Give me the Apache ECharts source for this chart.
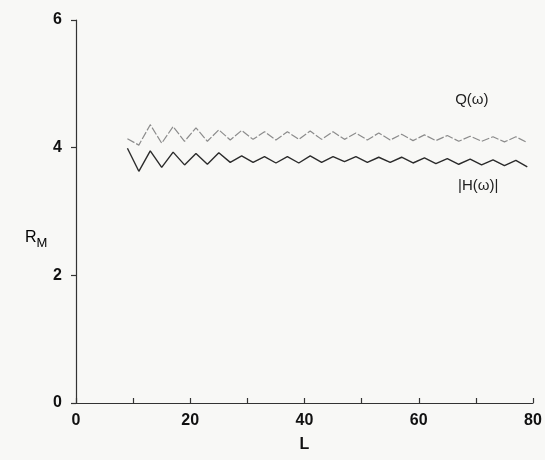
<!DOCTYPE html>
<html>
<head>
<meta charset="utf-8">
<script src="https://cdn.jsdelivr.net/npm/echarts@6/dist/echarts.min.js"></script>
<style>
  html, body { margin: 0; padding: 0; background: #f8f8f6; }
  #chart { width: 545px; height: 460px; }
</style>
</head>
<body>
<div id="chart"></div>
<script>
// Window size L (sampled every 2) and the two ratio curves
const lValues = [9, 11, 13, 15, 17, 19, 21, 23, 25, 27, 29, 31, 33, 35, 37, 39, 41, 43, 45,
  47, 49, 51, 53, 55, 57, 59, 61, 63, 65, 67, 69, 71, 73, 75, 77, 79];

const hValues = [3.99, 3.63, 3.95, 3.69, 3.93, 3.73, 3.91, 3.74, 3.92, 3.77, 3.87, 3.77,
  3.86, 3.76, 3.86, 3.76, 3.87, 3.77, 3.86, 3.78, 3.86, 3.77, 3.85, 3.77, 3.85, 3.76,
  3.84, 3.75, 3.83, 3.74, 3.82, 3.73, 3.81, 3.72, 3.80, 3.70];

const qValues = [4.14, 4.04, 4.36, 4.07, 4.33, 4.10, 4.31, 4.10, 4.28, 4.12, 4.27, 4.13,
  4.25, 4.12, 4.25, 4.13, 4.26, 4.13, 4.25, 4.13, 4.23, 4.12, 4.23, 4.12, 4.21, 4.11,
  4.20, 4.11, 4.19, 4.10, 4.18, 4.10, 4.17, 4.09, 4.17, 4.08];

const xTicks = [0, 20, 40, 60, 80];
const yTicks = [0, 2, 4, 6];

const pair = (xs, ys) => xs.map((x, i) => [x, ys[i]]);

const chart = echarts.init(document.getElementById('chart'), null, { renderer: 'canvas' });

const FONT = 'Liberation Sans, Arial, sans-serif';
const labelFont = { fontFamily: FONT, fontWeight: 'bold', fontSize: 16, color: '#111' };

// invisible anchor carrying a curve's name as text
function curveTag(coord, text) {
  return {
    symbol: 'circle',
    symbolSize: 1,
    itemStyle: { color: 'rgba(0,0,0,0)' },
    label: { show: true, position: 'inside', fontFamily: FONT, fontSize: 15, color: '#222' },
    data: [{ coord: coord, value: 0, label: { formatter: text } }]
  };
}

chart.setOption({
  backgroundColor: '#f8f8f6',
  animation: false,
  grid: { left: 76, right: 12, top: 20, bottom: 57 },
  xAxis: {
    type: 'value',
    min: 0, max: 80, interval: 10,
    name: 'L',
    nameLocation: 'middle',
    nameGap: 34,
    nameTextStyle: labelFont,
    axisLine: { show: true, lineStyle: { color: '#333', width: 1.2 } },
    axisTick: { show: true, inside: true, length: 5, lineStyle: { color: '#333', width: 1.2 } },
    axisLabel: Object.assign({}, labelFont, {
      margin: 10,
      formatter: v => (xTicks.indexOf(v) >= 0 ? String(v) : '')
    }),
    splitLine: { show: false }
  },
  yAxis: {
    type: 'value',
    min: 0, max: 6, interval: 2,
    axisLine: { show: true, lineStyle: { color: '#333', width: 1.2 } },
    axisTick: { show: true, inside: false, length: 5, lineStyle: { color: '#333', width: 1.2 } },
    axisLabel: Object.assign({}, labelFont, {
      margin: 14,
      formatter: v => (yTicks.indexOf(v) >= 0 ? String(v) : '')
    }),
    splitLine: { show: false }
  },
  graphic: [
    {
      type: 'text',
      left: 25, top: 230,
      style: {
        text: '{r|R}{m|M}',
        rich: {
          r: { fontFamily: FONT, fontSize: 16, color: '#111' },
          m: { fontFamily: FONT, fontSize: 13, color: '#111', padding: [10, 0, 0, 0] }
        }
      }
    }
  ],
  series: [
    {
      name: '|H(ω)|',
      type: 'line',
      data: pair(lValues, hValues),
      symbol: 'none',
      lineStyle: { color: '#2b2b2b', width: 1.4 },
      markPoint: curveTag([70.4, 3.40], '|H(ω)|')
    },
    {
      name: 'Q(ω)',
      type: 'line',
      data: pair(lValues, qValues),
      symbol: 'none',
      lineStyle: { color: '#8c8c8c', width: 1.2, type: [8, 2] },
      markPoint: curveTag([69.3, 4.75], 'Q(ω)')
    }
  ]
});
</script>
</body>
</html>
